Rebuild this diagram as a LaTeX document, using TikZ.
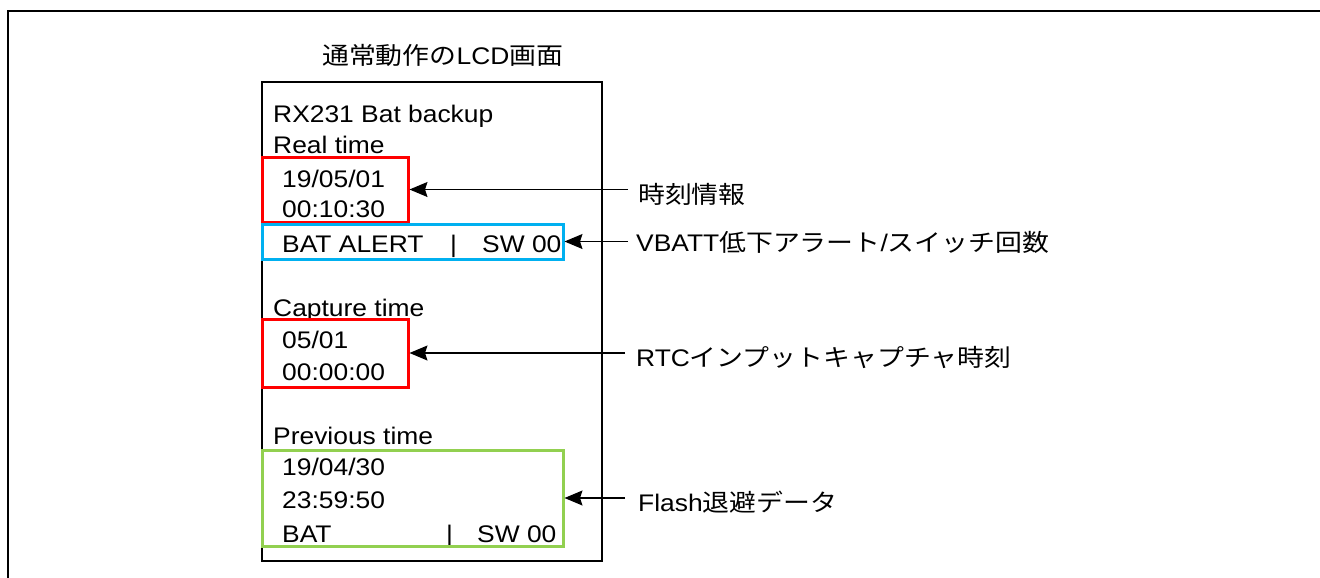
\documentclass[tikz,border=0pt]{standalone}
\usepackage{fontspec}
\setmainfont{Liberation Sans}[FakeStretch=1.1]
\newfontfamily\jp{Noto Sans CJK JP}[FakeStretch=1.12]
\usetikzlibrary{arrows.meta}
\begin{document}
\begin{tikzpicture}[x=1pt,y=-1pt,
  txt/.style={anchor=base west,inner sep=0pt,font=\fontsize{24}{28}\selectfont},
  box/.style={draw,rectangle,inner sep=0pt,line width=3pt},
  arr/.style={line width=1.3pt,-{Stealth[length=18pt,width=15pt,inset=2.5pt]}}]
\useasboundingbox (0,0) rectangle (1320,578);
% outer frame
\coordinate (fa) at (7.5,578);
\coordinate (fb) at (7.5,11);
\coordinate (fc) at (1320,11);
\draw[line width=2pt] (fa) -- (fb) -- (fc);
% title
\node[txt] (title) at (322,64) {{\jp 通常動作の}LCD{\jp 画面}};
% LCD frame
\node[draw,rectangle,inner sep=0pt,line width=1.3pt,minimum width=340pt,minimum height=479pt] (lcd) at (432,321.5) {};
% texts
\node[txt] (t1) at (273,122) {RX231 Bat backup};
\node[txt] (t2) at (273,153) {Real time};
\node[txt] (t3) at (282,187) {19/05/01};
\node[txt] (t4) at (282,217) {00:10:30};
\node[txt] (t5) at (282,252) {BAT ALERT};
\node[txt] (t5b) at (450,252) {|};
\node[txt] (t5c) at (482,252) {SW 00};
\node[txt] (t6) at (273,316) {Capture time};
\node[txt] (t7) at (282,348) {05/01};
\node[txt] (t8) at (282,380) {00:00:00};
\node[txt] (t9) at (273,444) {Previous time};
\node[txt] (t10) at (282,475) {19/04/30};
\node[txt] (t11) at (282,508) {23:59:50};
\node[txt] (t12) at (282,542) {BAT};
\node[txt] (t12b) at (446,542) {|};
\node[txt] (t12c) at (477,542) {SW 00};
% coloured boxes
\node[box,draw={rgb,255:red,255;green,0;blue,0},minimum width=146pt,minimum height=65pt] (rb1) at (335,189.5) {};
\node[box,draw={rgb,255:red,0;green,176;blue,240},minimum width=301pt,minimum height=35pt] (bb) at (412.5,241.5) {};
\node[box,draw={rgb,255:red,255;green,0;blue,0},minimum width=146pt,minimum height=68pt] (rb2) at (335,353) {};
\node[box,draw={rgb,255:red,146;green,208;blue,80},minimum width=301pt,minimum height=96pt] (gb) at (412.5,498) {};
% labels
\node[txt] (l1) at (638,203) {\jp 時刻情報};
\node[txt] (l2) at (636,251) {VBATT{\jp 低下アラート}/{\jp スイッチ回数}};
\node[txt] (l3) at (636,366) {RTC{\jp インプットキャプチャ時刻}};
\node[txt] (l4) at (638,511) {Flash{\jp 退避データ}};
% arrows
\coordinate (a1) at (628,189.5);
\coordinate (a2) at (628,241.5);
\coordinate (a3) at (625,353);
\coordinate (a4) at (625,498);
\draw[arr] (a1) -- (rb1.east);
\draw[arr] (a2) -- (bb.east);
\draw[arr] (a3) -- (rb2.east);
\draw[arr] (a4) -- (gb.east);
\end{tikzpicture}
\end{document}
